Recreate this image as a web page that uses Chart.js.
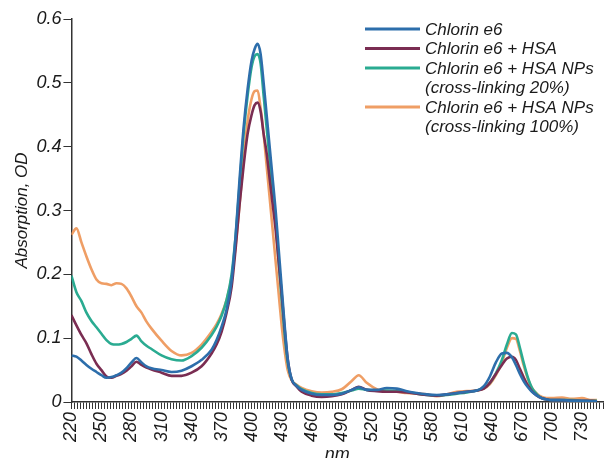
<!DOCTYPE html>
<html>
<head>
<meta charset="utf-8">
<script src="https://cdn.jsdelivr.net/npm/chart.js@4/dist/chart.umd.min.js"></script>
<style>
  html, body { margin: 0; padding: 0; background: #fff; }
  #wrap { width: 608px; height: 458px; position: relative; }
</style>
</head>
<body>
<div id="wrap"><canvas id="chart"></canvas></div>
<script>
// wavelength grid (nm), shared by all four spectra
const WAVELENGTHS = [
  220, 225, 230, 235, 240, 245, 250, 255, 260, 265, 270, 275, 280, 285, 290, 295, 300,
  310, 320, 330, 340, 350, 360,
  365, 370, 375, 380,
  384, 388, 392, 396, 400,
  403, 406, 409, 412, 415, 418, 421, 424, 427, 430, 433, 436,
  440, 445, 450,
  460, 470, 480, 490, 500,
  507, 515,
  525, 535, 545, 555, 565, 575, 585, 595, 605, 615, 625,
  632, 638, 644, 650, 655, 660, 664, 668, 672, 676, 680, 685, 690, 695, 700,
  710, 720, 730, 740, 745,
];

const CE6 = [
  0.073, 0.071, 0.065, 0.058, 0.052, 0.047, 0.042, 0.038, 0.039, 0.042, 0.046, 0.053, 0.062, 0.069, 0.062, 0.056, 0.053,
  0.050, 0.047, 0.049, 0.056, 0.066, 0.082,
  0.097, 0.118, 0.145, 0.19,
  0.26, 0.35, 0.43, 0.49, 0.535,
  0.553, 0.561, 0.545, 0.50, 0.45, 0.40, 0.35, 0.30, 0.24, 0.18, 0.12, 0.068,
  0.036, 0.025, 0.019,
  0.013, 0.011, 0.011, 0.013, 0.019,
  0.023, 0.019,
  0.019, 0.022, 0.021, 0.017, 0.014, 0.012, 0.011, 0.012, 0.014, 0.016, 0.018,
  0.025, 0.040, 0.062, 0.076, 0.077, 0.070, 0.058, 0.044, 0.032, 0.023, 0.016, 0.010, 0.006, 0.004, 0.003,
  0.003, 0.002, 0.002, 0.001, 0.001,
];

const CE6_HSA = [
  0.136, 0.120, 0.105, 0.092, 0.075, 0.060, 0.050, 0.040, 0.038, 0.041, 0.044, 0.049, 0.056, 0.063, 0.058, 0.054, 0.051,
  0.046, 0.041, 0.041, 0.046, 0.056, 0.076,
  0.090, 0.110, 0.140, 0.18,
  0.24, 0.31, 0.37, 0.42, 0.45,
  0.465, 0.469, 0.455, 0.42, 0.39, 0.35, 0.31, 0.27, 0.22, 0.17, 0.115, 0.068,
  0.035, 0.024, 0.016,
  0.010, 0.008, 0.009, 0.012, 0.019,
  0.024, 0.019,
  0.017, 0.016, 0.016, 0.015, 0.013, 0.011, 0.010, 0.012, 0.014, 0.016, 0.018,
  0.021, 0.030, 0.044, 0.058, 0.068, 0.071, 0.066, 0.052, 0.038, 0.026, 0.017, 0.010, 0.006, 0.004, 0.003,
  0.003, 0.002, 0.002, 0.002, 0.001,
];

const CE6_NP20 = [
  0.198, 0.172, 0.158, 0.140, 0.127, 0.117, 0.107, 0.097, 0.091, 0.090, 0.091, 0.094, 0.099, 0.104, 0.095, 0.088, 0.083,
  0.073, 0.067, 0.065, 0.072, 0.085, 0.105,
  0.118, 0.135, 0.160, 0.20,
  0.26, 0.34, 0.42, 0.48, 0.525,
  0.542, 0.545, 0.53, 0.48, 0.43, 0.38, 0.33, 0.28, 0.22, 0.16, 0.105, 0.062,
  0.035, 0.026, 0.020,
  0.014, 0.012, 0.012, 0.014, 0.018,
  0.021, 0.019,
  0.018, 0.018, 0.017, 0.016, 0.013, 0.011, 0.010, 0.011, 0.013, 0.015, 0.018,
  0.022, 0.030, 0.045, 0.066, 0.090, 0.108, 0.106, 0.085, 0.060, 0.038, 0.022, 0.012, 0.006, 0.004, 0.003,
  0.003, 0.003, 0.002, 0.002, 0.002,
];

const CE6_NP100 = [
  0.262, 0.272, 0.250, 0.228, 0.208, 0.192, 0.186, 0.185, 0.183, 0.186, 0.185, 0.178, 0.165, 0.150, 0.140, 0.126, 0.115,
  0.096, 0.080, 0.073, 0.077, 0.090, 0.110,
  0.122, 0.138, 0.160, 0.195,
  0.245, 0.31, 0.38, 0.44, 0.475,
  0.487, 0.488, 0.46, 0.42, 0.37, 0.32, 0.27, 0.22, 0.17, 0.12, 0.08, 0.05,
  0.034, 0.027, 0.022,
  0.017, 0.015, 0.016, 0.020, 0.033,
  0.042, 0.030,
  0.020, 0.017, 0.016, 0.014, 0.013, 0.012, 0.009, 0.012, 0.016, 0.017, 0.018,
  0.021, 0.028, 0.042, 0.062, 0.085, 0.100, 0.099, 0.080, 0.056, 0.036, 0.022, 0.013, 0.008, 0.006, 0.006,
  0.007, 0.005, 0.006, 0.003, 0.003,
];

const SERIES_LABELS = [
  'Chlorin e6',
  'Chlorin e6 + HSA',
  'Chlorin e6 + HSA NPs\n(cross-linking 20%)',
  'Chlorin e6 + HSA NPs\n(cross-linking 100%)',
];
const SERIES_COLORS = ['#2d6eab', '#7a2d52', '#2aab91', '#ef9e65'];
const SERIES_VALUES = [CE6, CE6_HSA, CE6_NP20, CE6_NP100];

const X_MIN = 220;
const X_MAX = 751;
const X_TICK_STEP = 3;   // small ticks
const X_LABEL_STEP = 30; // labelled ticks

const FONT = "'Liberation Sans', Arial, sans-serif";
const INK = '#1a1a1a';

function buildDatasets() {
  return SERIES_VALUES.map((vals, i) => ({
    label: SERIES_LABELS[i],
    data: WAVELENGTHS.map((w, k) => ({ x: w, y: vals[k] })),
    borderColor: SERIES_COLORS[i],
    borderWidth: 2.6,
    pointRadius: 0,
    cubicInterpolationMode: 'monotone',
    fill: false,
  }));
}

// legend drawn by hand: multi-line labels, line sample on the left
const sideLegend = {
  id: 'sideLegend',
  afterDraw(chart) {
    const ctx = chart.ctx;
    const x0 = 365, x1 = 420, tx = 425;
    const rowH = 19.5;
    let y = 29;
    ctx.save();
    ctx.font = `italic 17px ${FONT}`;
    ctx.textBaseline = 'middle';
    ctx.fillStyle = INK;
    chart.data.datasets.forEach(ds => {
      ctx.strokeStyle = ds.borderColor;
      ctx.lineWidth = 3;
      ctx.beginPath();
      ctx.moveTo(x0, y);
      ctx.lineTo(x1, y);
      ctx.stroke();
      ds.label.split('\n').forEach(line => {
        ctx.fillText(line, tx, y + 1);
        y += rowH;
      });
    });
    ctx.restore();
  },
};

new Chart(document.getElementById('chart').getContext('2d'), {
  type: 'line',
  data: { datasets: buildDatasets() },
  options: {
    responsive: true,
    maintainAspectRatio: false,
    animation: false,
    layout: { padding: { left: 8, right: 5, top: 19, bottom: 0 } },
    plugins: { legend: { display: false }, tooltip: { enabled: false } },
    scales: {
      x: {
        type: 'linear',
        min: X_MIN,
        max: X_MAX,
        afterBuildTicks: axis => {
          const ticks = [];
          for (let v = X_MIN; v <= X_MAX; v += X_TICK_STEP) ticks.push({ value: v });
          axis.ticks = ticks;
        },
        afterFit: axis => {
          axis.height = 56;
          axis.paddingLeft = 0;
          axis.paddingRight = 0;
        },
        ticks: {
          autoSkip: false,
          minRotation: 90,
          maxRotation: 90,
          padding: 3,
          color: INK,
          font: { family: FONT, size: 18, style: 'italic' },
          callback: v => ((v - X_MIN) % X_LABEL_STEP === 0 ? String(v) : ''),
        },
        grid: { drawOnChartArea: false, drawTicks: true, tickLength: 7, color: '#333', lineWidth: 1 },
        border: { display: true, color: '#333', width: 1.5 },
        title: {
          display: true,
          text: 'nm',
          color: INK,
          font: { family: FONT, size: 18, style: 'italic' },
          padding: { top: 0, bottom: -8 },
        },
      },
      y: {
        min: 0,
        max: 0.6,
        afterFit: axis => {
          axis.paddingTop = 0;
          axis.paddingBottom = 0;
        },
        ticks: {
          stepSize: 0.1,
          padding: 2,
          color: INK,
          font: { family: FONT, size: 18, style: 'italic' },
        },
        grid: { drawOnChartArea: false, drawTicks: true, tickLength: 8, color: '#333', lineWidth: 1 },
        border: { display: true, color: '#333', width: 1.5 },
        title: {
          display: true,
          text: 'Absorption, OD',
          color: INK,
          font: { family: FONT, size: 17, style: 'italic' },
          padding: { top: 4, bottom: 2 },
        },
      },
    },
  },
  plugins: [sideLegend],
});
</script>
</body>
</html>
